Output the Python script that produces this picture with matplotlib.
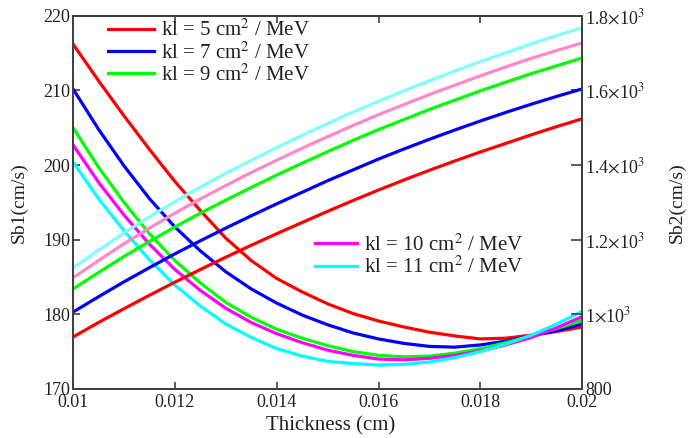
import matplotlib
matplotlib.use("Agg")
import matplotlib.pyplot as plt

plt.rcParams['font.family'] = ['Liberation Serif', 'DejaVu Serif']
plt.rcParams['mathtext.fontset'] = 'stix'

# thickness in cm
thickness = [0.0100, 0.0105, 0.0110, 0.0115, 0.0120, 0.0125, 0.0130, 0.0135, 0.0140, 0.0145,
             0.0150, 0.0155, 0.0160, 0.0165, 0.0170, 0.0175, 0.0180, 0.0185, 0.0190, 0.0195,
             0.0200]

# Sb1 (left axis), decreasing curves
sb1_kl5 = [216.2, 211.3, 206.6, 202.1, 197.8, 193.9, 190.2, 187.2, 184.8, 183.0,
           181.4, 180.1, 179.1, 178.3, 177.6, 177.1, 176.7, 176.8, 177.2, 177.7, 178.3]
sb1_kl7 = [210.2, 204.8, 199.9, 195.5, 191.7, 188.5, 185.7, 183.4, 181.5, 179.9,
           178.6, 177.5, 176.7, 176.1, 175.7, 175.6, 175.9, 176.4, 177.1, 177.8, 178.7]
sb1_kl9 = [205.0, 199.7, 195.0, 190.8, 187.2, 184.2, 181.6, 179.6, 178.0, 176.8,
           175.8, 175.0, 174.5, 174.3, 174.4, 174.8, 175.4, 176.2, 177.1, 178.1, 179.2]
sb1_kl10 = [202.7, 197.7, 193.3, 189.4, 186.0, 183.2, 180.8, 178.9, 177.4, 176.2,
            175.2, 174.5, 174.0, 173.9, 174.1, 174.5, 175.1, 175.9, 176.9, 178.2, 179.7]
sb1_kl11 = [200.4, 195.5, 191.2, 187.3, 183.9, 181.1, 178.7, 176.9, 175.4, 174.4,
            173.7, 173.4, 173.2, 173.3, 173.6, 174.2, 175.0, 176.0, 177.2, 178.7, 180.4]

# Sb2 (right axis), increasing curves
sb2_kl5 = [939, 978, 1015, 1051, 1086, 1120, 1153, 1185, 1216, 1246,
           1276, 1305, 1333, 1360, 1386, 1411, 1435, 1458, 1481, 1503, 1524]
sb2_kl7 = [1006, 1047, 1087, 1125, 1162, 1197, 1231, 1264, 1296, 1327,
           1358, 1387, 1416, 1443, 1469, 1494, 1518, 1541, 1563, 1584, 1604]
sb2_kl9 = [1068, 1112, 1155, 1195, 1234, 1271, 1306, 1340, 1373, 1405,
           1436, 1466, 1495, 1522, 1549, 1574, 1599, 1622, 1645, 1666, 1687]
sb2_kl10 = [1098, 1144, 1189, 1231, 1271, 1309, 1345, 1380, 1413, 1445,
            1476, 1506, 1535, 1562, 1589, 1614, 1639, 1663, 1686, 1707, 1727]
sb2_kl11 = [1124, 1172, 1218, 1261, 1302, 1341, 1378, 1413, 1447, 1480,
            1511, 1542, 1571, 1599, 1626, 1652, 1677, 1701, 1725, 1747, 1768]

kl_values = [5, 7, 9, 10, 11]
sb1_all = [sb1_kl5, sb1_kl7, sb1_kl9, sb1_kl10, sb1_kl11]
sb2_all = [sb2_kl5, sb2_kl7, sb2_kl9, sb2_kl10, sb2_kl11]
colors1 = ['#ff0000', '#0000ff', '#00ff00', '#ff00ff', '#00ffff']
colors2 = ['#ff0000', '#0000ff', '#00ff00', '#ff88c8', '#80ffff']

x_ticks = [0.010, 0.012, 0.014, 0.016, 0.018, 0.020]
x_ticklabels = ['0.01', '0.012', '0.014', '0.016', '0.018', '0.02']
y1_ticks = [170, 180, 190, 200, 210, 220]
y2_ticks = [800, 1000, 1200, 1400, 1600, 1800]
y2_ticklabels = ['800', '1$\\times$10$^{3}$', '1.2$\\times$10$^{3}$', '1.4$\\times$10$^{3}$',
                 '1.6$\\times$10$^{3}$', '1.8$\\times$10$^{3}$']

txt_col = '#222222'
spine_col = '#404040'

fig = plt.figure(figsize=(6.89, 4.38), dpi=100)
ax = fig.add_axes([0.106, 0.112, 0.739, 0.852])
ax2 = ax.twinx()

handles = []
for kl, y, c in zip(kl_values, sb1_all, colors1):
    h, = ax.plot(thickness, y, color=c, lw=2.3, label='kl = %d cm$^{2}$ / MeV' % kl)
    handles.append(h)
for y, c in zip(sb2_all, colors2):
    ax2.plot(thickness, y, color=c, lw=2.3)

ax.set_xlim(0.010, 0.020)
ax.set_ylim(170, 220)
ax2.set_ylim(800, 1800)

ax.set_xticks(x_ticks)
ax.set_xticklabels(x_ticklabels)
ax.set_yticks(y1_ticks)
ax2.set_yticks(y2_ticks)
ax2.set_yticklabels(y2_ticklabels)

ax.tick_params(axis='x', direction='in', length=5, width=1.2, top=True, pad=4,
               labelsize=13, colors=spine_col, labelcolor=txt_col)
ax.tick_params(axis='y', direction='in', length=5, width=1.2, pad=2,
               labelsize=13, colors=spine_col, labelcolor=txt_col)
ax2.tick_params(axis='y', direction='in', length=8, width=1.2, pad=2,
                labelsize=13, colors=spine_col, labelcolor=txt_col)

for a in (ax, ax2):
    for s in a.spines.values():
        s.set_color(spine_col)
        s.set_linewidth(1.4)

ax.set_xlabel('Thickness (cm)', fontsize=15, color=txt_col)
ax.xaxis.set_label_coords(0.505, -0.072)
ax.set_ylabel('Sb1(cm/s)', fontsize=14, color=txt_col)
ax.yaxis.set_label_coords(-0.088, 0.5)
ax2.set_ylabel('Sb2(cm/s)', fontsize=14, color=txt_col)
ax2.yaxis.set_label_coords(1.169, 0.5)

leg1 = ax2.legend(handles[:3], [h.get_label() for h in handles[:3]],
                  loc='upper left', bbox_to_anchor=(0.069, 0.99), frameon=False,
                  fontsize=15, handlelength=2.2, handletextpad=0.35,
                  labelspacing=0.05, borderpad=0, borderaxespad=0)
ax2.add_artist(leg1)
leg2 = ax2.legend(handles[3:], [h.get_label() for h in handles[3:]],
                  loc='upper left', bbox_to_anchor=(0.475, 0.415), frameon=False,
                  fontsize=15, handlelength=2.0, handletextpad=0.35,
                  labelspacing=0.05, borderpad=0, borderaxespad=0)
for lg in (leg1, leg2):
    for t in lg.get_texts():
        t.set_color(txt_col)

fig.savefig('out.png', dpi=100)
